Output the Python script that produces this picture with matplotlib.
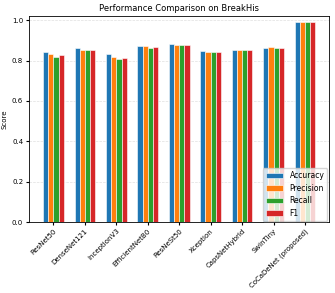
import matplotlib
matplotlib.use("Agg")
import matplotlib.pyplot as plt
import numpy as np

models = ["ResNet50", "DenseNet121", "InceptionV3", "EfficientNetB0", "ResNeSt50",
          "Xception", "CapsNetHybrid", "SwinTiny", "CoCaDeNet (proposed)"]
accuracy = [0.84, 0.86, 0.83, 0.87, 0.88, 0.845, 0.85, 0.86, 0.99]
precision = [0.83, 0.85, 0.82, 0.87, 0.875, 0.84, 0.85, 0.865, 0.99]
recall = [0.82, 0.85, 0.81, 0.86, 0.875, 0.84, 0.85, 0.86, 0.99]
f1 = [0.825, 0.85, 0.815, 0.865, 0.875, 0.84, 0.85, 0.862, 0.99]

series = [("Accuracy", accuracy), ("Precision", precision), ("Recall", recall), ("F1", f1)]

fig = plt.figure(figsize=(3.35, 2.93), dpi=100)
ax = fig.add_axes([0.088, 0.242, 0.894, 0.703])

x = np.arange(len(models))
w = 0.165
for i, (name, vals) in enumerate(series):
    ax.bar(x + (i - 1.5) * w, vals, w, label=name, edgecolor="white", linewidth=0.4)

ax.set_ylim(0, 1.02)
ax.set_xticks(x)
ax.set_xticklabels(models, rotation=45, ha="right", rotation_mode="anchor", fontsize=5)
ax.tick_params(axis="y", labelsize=5, length=2.5, pad=2)
ax.tick_params(axis="x", length=2.5, pad=1.5)
ax.set_ylabel("Score", fontsize=5, labelpad=3)
ax.set_title("Performance Comparison on BreakHis", fontsize=6, pad=4)
ax.grid(axis="y", linestyle="--", alpha=0.4, linewidth=0.5)
ax.set_axisbelow(True)
for s in ax.spines.values():
    s.set_linewidth(0.6)
ax.legend(loc="lower right", fontsize=5.5, handlelength=2.3, borderpad=0.4,
          labelspacing=0.45, borderaxespad=0.2)

fig.savefig("out.png", dpi=100)
